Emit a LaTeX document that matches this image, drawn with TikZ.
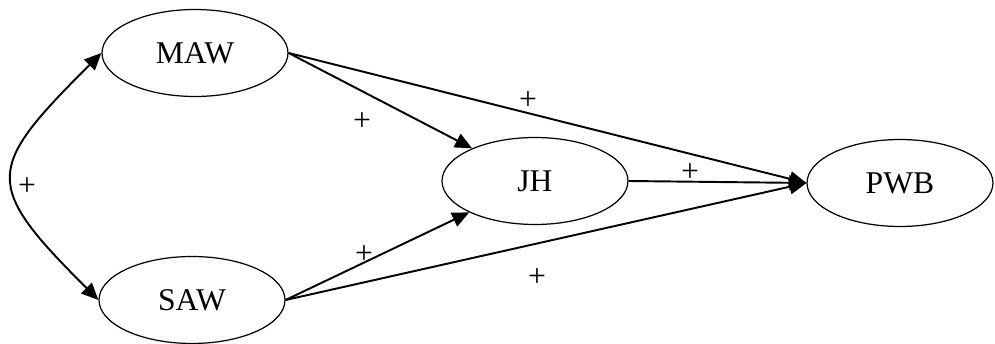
\documentclass[tikz,border=0pt]{standalone}
\usepackage{fontspec}
\setmainfont{Liberation Serif}
\usetikzlibrary{positioning,arrows.meta,shapes.geometric}

\begin{document}
\begin{tikzpicture}[
      x=0.02cm, y=0.02cm,
      every node/.style={font=\fontsize{18}{21}\selectfont},
      var/.style={draw, ellipse, line width=0.7pt, minimum width=3.72cm, minimum height=1.74cm, inner sep=0pt},
      path/.style={line width=1.1pt, -{Triangle[length=0.34cm, width=0.3cm]}},
      sign/.style={inner sep=0pt}
    ]
      \useasboundingbox (0,0) rectangle (995,344);

      % latent variables
      \node[var] (maw) at (195, 291) {MAW};
      \node[var] (saw) at (192, 44) {SAW};
      \node[var] (jh) at (535, 163) {JH};
      \node[var] (pwb) at (900, 161) {PWB};

      % covariance
      \draw[line width=1.1pt, {Triangle[length=0.34cm, width=0.3cm]}-{Triangle[length=0.34cm, width=0.3cm]}]
        (maw.west) to[out=225, in=135, looseness=1.7] (saw.west);

      % paths
      \draw[path] (maw.east) -- (jh);
      \draw[path] (maw.east) -- (pwb.west);
      \draw[path] (saw.east) -- (jh);
      \draw[path] (saw.east) -- (pwb.west);
      \draw[path] (jh.east) -- (pwb.west);

      % signs
      \node[sign] (s1) at (27, 157) {+};
      \node[sign] (s2) at (362, 222) {+};
      \node[sign] (s3) at (528, 243) {+};
      \node[sign] (s4) at (690, 171) {+};
      \node[sign] (s5) at (364, 89) {+};
      \node[sign] (s6) at (537, 66) {+};
    \end{tikzpicture}
\end{document}
